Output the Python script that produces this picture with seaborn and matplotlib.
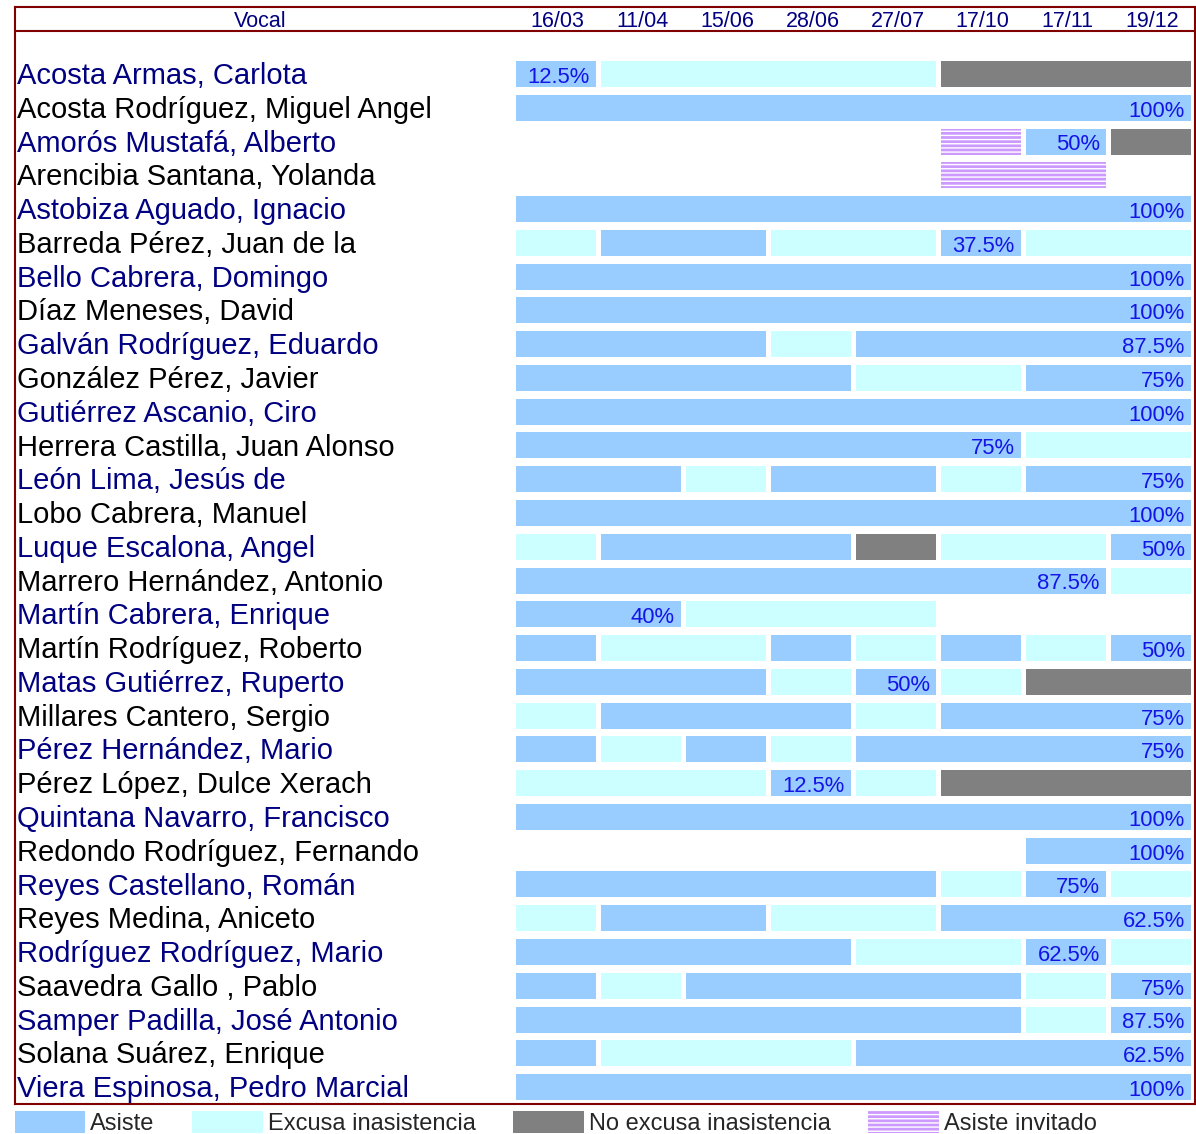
import itertools

import matplotlib.pyplot as plt
import seaborn as sns
from matplotlib.patches import Patch

# Data
vocales = [
    "Acosta Armas, Carlota", "Acosta Rodríguez, Miguel Angel", "Amorós Mustafá, Alberto",
    "Arencibia Santana, Yolanda", "Astobiza Aguado, Ignacio", "Barreda Pérez, Juan de la",
    "Bello Cabrera, Domingo", "Díaz Meneses, David", "Galván Rodríguez, Eduardo",
    "González Pérez, Javier", "Gutiérrez Ascanio, Ciro", "Herrera Castilla, Juan Alonso",
    "León Lima, Jesús de", "Lobo Cabrera, Manuel", "Luque Escalona, Angel",
    "Marrero Hernández, Antonio", "Martín Cabrera, Enrique", "Martín Rodríguez, Roberto",
    "Matas Gutiérrez, Ruperto", "Millares Cantero, Sergio", "Pérez Hernández, Mario",
    "Pérez López, Dulce Xerach", "Quintana Navarro, Francisco", "Redondo Rodríguez, Fernando",
    "Reyes Castellano, Román", "Reyes Medina, Aniceto", "Rodríguez Rodríguez, Mario",
    "Saavedra Gallo , Pablo", "Samper Padilla, José Antonio", "Solana Suárez, Enrique",
    "Viera Espinosa, Pedro Marcial",
]
fechas = ["16/03", "11/04", "15/06", "28/06", "27/07", "17/10", "17/11", "19/12"]
# A = asiste, E = excusa, N = no excusa, I = asiste invitado, - = sin sesión
asistencia = [
    "AEEEENNN", "AAAAAAAA", "-----IAN", "-----II-", "AAAAAAAA", "EAAEEAEE",
    "AAAAAAAA", "AAAAAAAA", "AAAEAAAA", "AAAAEEAA", "AAAAAAAA", "AAAAAAEE",
    "AAEAAEAA", "AAAAAAAA", "EAAANEEA", "AAAAAAAE", "AAEEE---", "AEEAEAEA",
    "AAAEAENN", "EAAAEAAA", "AEAEAAAA", "EEEAENNN", "AAAAAAAA", "------AA",
    "AAAAAEAE", "EAAEEAAA", "AAAAEEAE", "AEAAAAEA", "AAAAAAEA", "AEEEAAAA",
    "AAAAAAAA",
]
estados = ["A", "E", "N", "I"]
etiquetas = ["Asiste", "Excusa inasistencia", "No excusa inasistencia", "Asiste invitado"]
colores = ["#99CCFF", "#CCFFFF", "#808080", "#CC99FF"]

sns.set_theme(style="white")
plt.rcParams["font.family"] = ["Liberation Sans", "DejaVu Sans"]
plt.rcParams["hatch.linewidth"] = 1.0

color_de = dict(zip(estados, colores))
hatch_de = {"I": "----"}
borde = "#800000"
navy = "#000080"

fig = plt.figure(figsize=(11.96, 11.34), dpi=100)
ax = fig.add_axes([15 / 1196, 30 / 1134, 1180 / 1196, 1097 / 1134])

for i, fila in enumerate(asistencia):
    pos = 0
    ultimo_fin = None
    # consecutive sessions with the same status are merged into one bar
    for estado, grupo in itertools.groupby(fila):
        n = len(list(grupo))
        if estado != "-":
            ax.barh(
                i, n - 0.06, left=pos + 0.01, height=0.77,
                color=color_de[estado],
                hatch=hatch_de.get(estado),
                edgecolor="white" if estado == "I" else color_de[estado],
                linewidth=0,
            )
            if estado == "A":
                ultimo_fin = pos + n - 0.05
        pos += n
    miembros = sum(fila.count(s) for s in "AEN")
    if miembros and ultimo_fin is not None:
        pct = 100 * fila.count("A") / miembros
        ax.text(ultimo_fin - 0.07, i + 0.1, f"{pct:g}%", ha="right", va="center",
                fontsize=15.8, color="#1414e6")
    ax.text(-5.86, i + 0.06, vocales[i], ha="left", va="center", fontsize=21,
            color=navy if i % 2 == 0 else "black")

# header
ax.text(-3.0, -1.55, "Vocal", ha="center", va="center", fontsize=15.5, color=navy)
for j, f in enumerate(fechas):
    ax.text(j + 0.5, -1.55, f, ha="center", va="center", fontsize=15.5, color=navy)
ax.axhline(-1.273, color=borde, linewidth=1.5)

ax.set_xlim(-500 / 85, 8)
ax.set_ylim(30.5, -1.984)
ax.set_xticks([])
ax.set_yticks([])
for s in ax.spines.values():
    s.set_color(borde)
    s.set_linewidth(1.5)

handles = [
    Patch(facecolor=c, edgecolor="white" if e == "I" else c, hatch=hatch_de.get(e), linewidth=0, label=l)
    for e, c, l in zip(estados, colores, etiquetas)
]
fig.legend(
    handles=handles, loc="center left", bbox_to_anchor=(15 / 1196, 11 / 1134),
    ncol=4, frameon=False, fontsize=17, handlelength=2.97, handleheight=1.1,
    handletextpad=0.22, columnspacing=1.6, borderpad=0, borderaxespad=0,
)

fig.savefig("out.png", dpi=100)
